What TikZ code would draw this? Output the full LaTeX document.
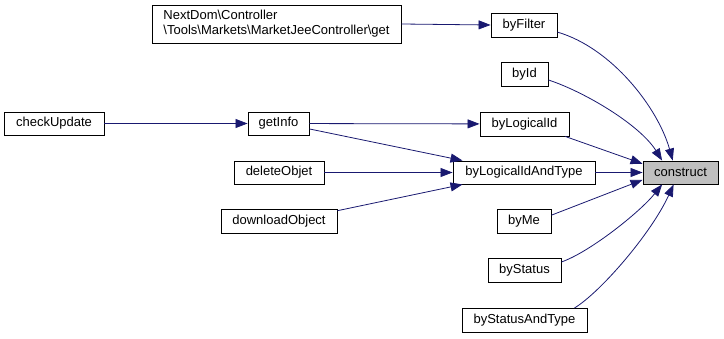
\documentclass[tikz,border=0pt]{standalone}
\usepackage{fontspec}
\setmainfont{Liberation Sans}
\usetikzlibrary{arrows.meta,calc}
\definecolor{edgeblue}{HTML}{191970}
\definecolor{hlgray}{HTML}{BFBFBF}

\begin{document}
\begin{tikzpicture}[x=1pt,y=-1pt,
  fn/.style={draw=black, line width=0.9pt, fill=white, inner sep=0pt,
    minimum height=24pt, font=\fontsize{13}{15}\selectfont},
  call/.style={draw=edgeblue, line width=0.8pt,
    -{Triangle[length=12pt,width=9pt,fill=edgeblue]}}
]
\useasboundingbox (0,0) rectangle (724,339);

% functions
\node[fn, fill=hlgray, minimum width=75pt, minimum height=23pt] (construct) at (680.5,172.5) {construct};
\node[fn, minimum width=66pt] (byFilter) at (524,25) {byFilter};
\node[fn, minimum width=47pt] (byId) at (524.5,74) {byId};
\node[fn, minimum width=89pt] (byLogicalId) at (524.5,124) {byLogicalId};
\node[fn, minimum width=142pt, minimum height=23pt] (byLogicalIdAndType) at (524,172.5) {byLogicalIdAndType};
\node[fn, minimum width=54pt] (byMe) at (524,221.5) {byMe};
\node[fn, minimum width=73pt] (byStatus) at (524.5,270.5) {byStatus};
\node[fn, minimum width=125pt] (byStatusAndType) at (524.5,320.5) {byStatusAndType};
\node[fn, minimum width=249pt, minimum height=38pt, align=left] (marketGet) at (276.5,24)
  {NextDom\textbackslash Controller\\\textbackslash Tools\textbackslash Markets\textbackslash MarketJeeController\textbackslash get};
\node[fn, minimum width=61pt, minimum height=23pt] (getInfo) at (278.5,123.5) {getInfo};
\node[fn, minimum width=90pt, minimum height=23pt] (deleteObjet) at (279,172.5) {deleteObjet};
\node[fn, minimum width=116pt] (downloadObject) at (279,221) {downloadObject};
\node[fn, minimum width=100pt, minimum height=23pt] (checkUpdate) at (54,123.5) {checkUpdate};

% calls into construct
\draw[call] (byFilter.-12) .. controls (612,48) and (658,108) .. (construct.123);
\draw[call] (byId.-14) .. controls (585,92) and (640,125) .. (construct.147);
\draw[call] (byLogicalId.-17) -- (construct.167);
\draw[call] (byLogicalIdAndType) -- (construct);
\draw[call] (byMe.13) -- (construct.191);
\draw[call] (byStatus.13) .. controls (590,252) and (640,212) .. (construct.213);
\draw[call] (byStatusAndType.14.5) .. controls (602,291) and (652,232) .. (construct.240);

% callers of the finders
\draw[call] (marketGet.east) -- (byFilter.west);
\draw[call] (checkUpdate) -- (getInfo);
\draw[call] (getInfo) -- (byLogicalId);
\draw[call] (getInfo.-10) -- (byLogicalIdAndType.169);
\draw[call] (deleteObjet) -- (byLogicalIdAndType);
\draw[call] (downloadObject.10) -- (byLogicalIdAndType.191);
\end{tikzpicture}
\end{document}
